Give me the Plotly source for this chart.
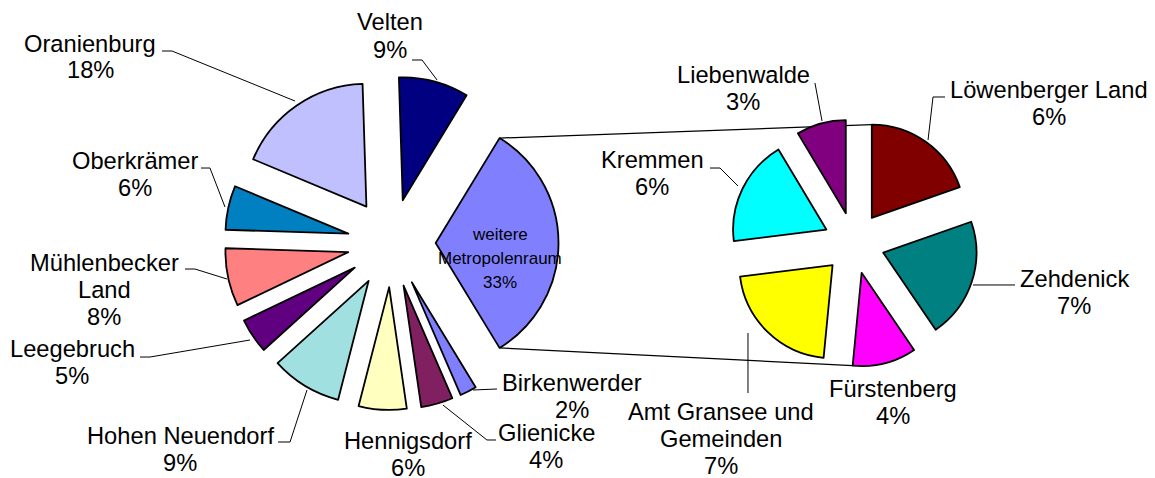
import math

import plotly.graph_objects as go

W, H = 1155, 478

# main pie (Landkreis Oberhavel, share in %)
main_labels = ["Velten", "weitere<br>Metropolenraum", "Birkenwerder", "Glienicke",
               "Hennigsdorf", "Hohen Neuendorf", "Leegebruch", "Mühlenbecker<br>Land",
               "Oberkrämer", "Oranienburg"]
main_values = [9.2, 32.6, 2.2, 4.2, 6.3, 9.3, 4.6, 7.6, 5.8, 18.2]
main_colors = ["#000080", "#8080FF", "#8080FF", "#802060", "#FFFFC0",
               "#A0E0E0", "#600080", "#FF8080", "#0080C0", "#C0C0FF"]

# secondary pie (breakdown of "weitere Metropolenraum")
detail_labels = ["Löwenberger Land", "Zehdenick", "Fürstenberg",
                 "Amt Gransee und<br>Gemeinden", "Kremmen", "Liebenwalde"]
detail_values = [6.4, 6.8, 3.6, 7.0, 6.0, 2.8]
detail_colors = ["#800000", "#008080", "#FF00FF", "#FFFF00", "#00FFFF", "#800080"]

# label anchor points (px, block centre) and leader lines (px)
main_label_pos = [(390, 36), (500, 258), (572, 396), (546, 446), (408, 454),
                  (180, 449), (72, 362), (104, 290), (135, 174), (90, 57)]
main_leaders = [
    [(412, 60), (422, 60), (437, 80)],
    None,
    [(497, 389), (473, 390)],
    [(496, 440), (487, 440), (443, 405)],
    None,
    [(278, 442), (290, 442), (307, 390)],
    [(140, 357), (150, 357), (250, 340)],
    [(185, 269), (195, 269), (227, 279)],
    [(201, 168), (210, 168), (225, 207)],
    [(162, 51), (172, 51), (295, 101)],
]
detail_label_pos = [(1049, 103), (1074, 292), (893, 402), (721, 439), (652, 173), (743, 89)]
detail_leaders = [
    [(945, 97), (933, 97), (928, 140)],
    [(1015, 285), (973, 285)],
    None,
    [(748, 393), (748, 333)],
    [(710, 168), (720, 168), (738, 186)],
    [(815, 83), (822, 121)],
]

MAIN_C, MAIN_HALF, MAIN_PULL = (391.5, 243), 167, 0.36
DET_C, DET_HALF, DET_PULL = (854, 243), 124, 0.33
FONT = "Arial, Liberation Sans, sans-serif"


def px(x, y):
    return x / W, 1 - y / H


def domain(c, half):
    return dict(x=[(c[0] - half) / W, (c[0] + half) / W],
                y=[1 - (c[1] + half) / H, 1 - (c[1] - half) / H])


def corner(c, half, pull, bis, ang):
    r = half / (1 + pull)
    ax = c[0] + pull * r * math.sin(math.radians(bis))
    ay = c[1] - pull * r * math.cos(math.radians(bis))
    return ax + r * math.sin(math.radians(ang)), ay - r * math.cos(math.radians(ang))


# "weitere" slice centred on 3 o'clock, as in the original pie-of-pie
main_total = sum(main_values)
rotation = 90 - (main_values[0] + main_values[1] / 2) / main_total * 360

fig = go.Figure()
fig.add_trace(go.Pie(
    labels=main_labels, values=main_values, sort=False, direction="clockwise",
    rotation=rotation, pull=[MAIN_PULL] * len(main_values), textinfo="none",
    marker=dict(colors=main_colors, line=dict(color="black", width=1.8)),
    domain=domain(MAIN_C, MAIN_HALF), showlegend=False,
))
fig.add_trace(go.Pie(
    labels=detail_labels, values=detail_values, sort=False, direction="clockwise",
    rotation=0, pull=[DET_PULL] * len(detail_values), textinfo="none",
    marker=dict(colors=detail_colors, line=dict(color="black", width=1.8)),
    domain=domain(DET_C, DET_HALF), showlegend=False,
))

# labels, one annotation per line to keep Excel-like line spacing
for lab, val, pos in zip(main_labels + detail_labels, main_values + detail_values,
                         main_label_pos + detail_label_pos):
    inside = lab.startswith("weitere")
    size, step = (17, 24) if inside else (23.7, 27)
    lines = lab.split("<br>") + [f"{round(val)}%"]
    for i, line in enumerate(lines):
        x, y = px(pos[0], pos[1] + (i - (len(lines) - 1) / 2) * step)
        fig.add_annotation(text=line, x=x, y=y, xref="paper", yref="paper",
                           showarrow=False, xanchor="center", yanchor="middle",
                           font=dict(family=FONT, size=size, color="black"))

shapes = []
for pts in main_leaders + detail_leaders:
    if not pts:
        continue
    path = " ".join(("M" if i == 0 else "L") + " {:.4f},{:.4f}".format(*px(*p))
                    for i, p in enumerate(pts))
    shapes.append(dict(type="path", path=path, xref="paper", yref="paper",
                       line=dict(color="black", width=1)))

# series lines between the "weitere" slice and the secondary pie
a0 = main_values[0] / main_total * 360 + rotation
a1 = a0 + main_values[1] / main_total * 360
det_total = sum(detail_values)
d_low = detail_values[0] / det_total * 360
d_f0 = sum(detail_values[:2]) / det_total * 360
d_f1 = sum(detail_values[:3]) / det_total * 360
top_a = corner(MAIN_C, MAIN_HALF, MAIN_PULL, (a0 + a1) / 2, a0)
bot_a = corner(MAIN_C, MAIN_HALF, MAIN_PULL, (a0 + a1) / 2, a1)
top_b = corner(DET_C, DET_HALF, DET_PULL, d_low / 2, 0)
bot_b = corner(DET_C, DET_HALF, DET_PULL, (d_f0 + d_f1) / 2, d_f1)
for p, q in [(top_a, top_b), (bot_a, bot_b)]:
    x0, y0 = px(*p)
    x1, y1 = px(*q)
    shapes.append(dict(type="line", x0=x0, y0=y0, x1=x1, y1=y1, xref="paper", yref="paper",
                       layer="below", line=dict(color="black", width=1.2)))

fig.update_layout(
    width=W, height=H, margin=dict(l=0, r=0, t=0, b=0),
    paper_bgcolor="white", plot_bgcolor="white",
    shapes=shapes, showlegend=False,
)

# drop the default 8px body margin so the figure fills the window
fig.write_html("out.html", config={"displayModeBar": False},
               post_script="document.body.style.margin = '0';")
